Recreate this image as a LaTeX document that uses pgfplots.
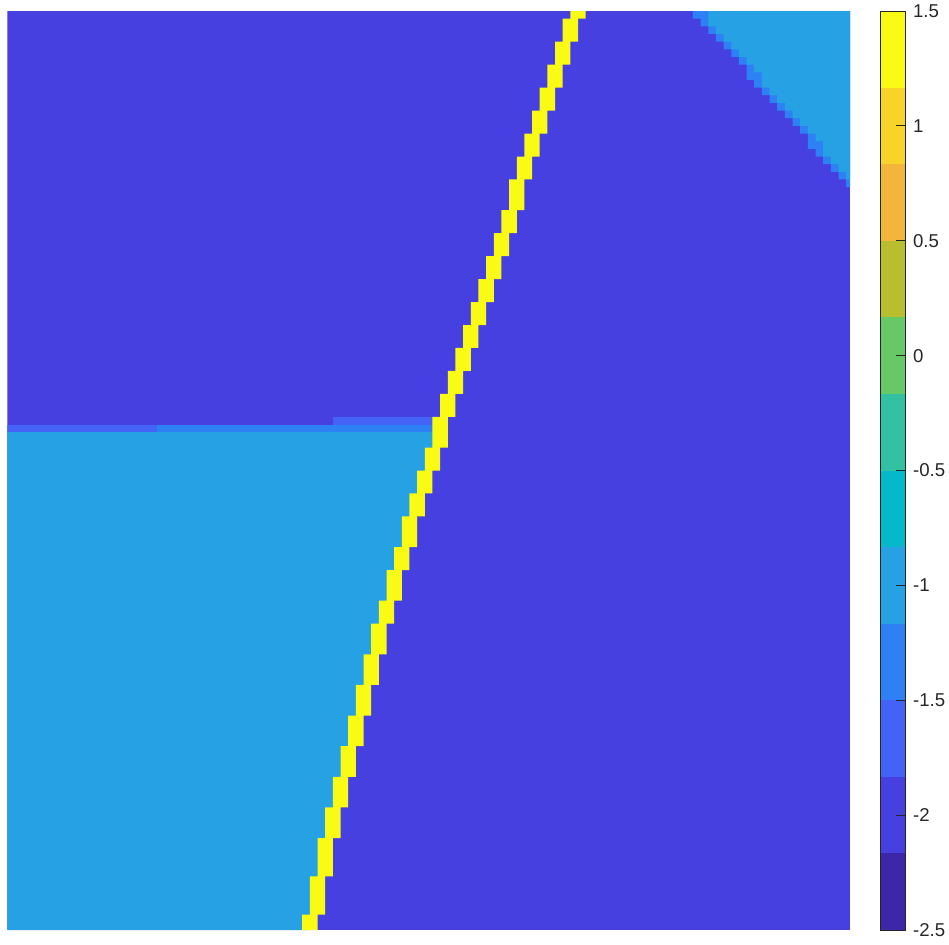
\documentclass[border=0pt]{standalone}
\usepackage{pgfplots}
\pgfplotsset{compat=1.18}
\usepackage{fontspec}
\setmainfont{Liberation Sans}
\definecolor{c1}{RGB}{62,38,168}
\definecolor{c2}{RGB}{70,64,224}
\definecolor{c3}{RGB}{67,98,246}
\definecolor{c4}{RGB}{46,129,245}
\definecolor{c5}{RGB}{37,161,228}
\definecolor{c6}{RGB}{5,184,202}
\definecolor{c7}{RGB}{50,193,162}
\definecolor{c8}{RGB}{103,200,102}
\definecolor{c9}{RGB}{184,190,45}
\definecolor{c10}{RGB}{244,182,58}
\definecolor{c11}{RGB}{248,212,43}
\definecolor{c12}{RGB}{249,251,21}
\definecolor{cFrame}{RGB}{38,38,38}
\begin{document}
\begin{tikzpicture}
\useasboundingbox (0,0) rectangle (474.5pt,472pt);
% ---------------- main image ----------------
\begin{axis}[at={(3.65pt,7pt)}, anchor=south west, scale only axis,
  width=421.35pt, height=459.5pt,
  xmin=-0.5, xmax=109.5, ymin=0, ymax=120, y dir=reverse,
  hide axis, clip=true]
% background value -2
\addplot[fill=c2, draw=none] coordinates {(-0.5,0) (109.5,0) (109.5,120) (-0.5,120)} -- cycle;
% lower-left region value -1
\addplot[fill=c5, draw=none] coordinates {
(-0.5,55) (56,55) (56,57) (55,57) (55,60) (54,60) (54,63) (53,63) (53,66) (52,66)
(52,70) (51,70) (51,73) (50,73) (50,77) (49,77) (49,80) (48,80) (48,84) (47,84)
(47,88) (46,88) (46,92) (45,92) (45,96) (44,96) (44,100) (43,100) (43,104) (42,104)
(42,108) (41,108) (41,113) (40,113) (40,118) (39,118) (39,120) (-0.5,120)} -- cycle;
% transition rows
\addplot[fill=c3, draw=none] coordinates {(42,53) (56,53) (56,54.02) (42,54.02)} -- cycle;
\addplot[fill=c3, draw=none] coordinates {(-0.5,54) (19,54) (19,55.02) (-0.5,55.02)} -- cycle;
\addplot[fill=c4, draw=none] coordinates {(19,54) (56,54) (56,55.02) (19,55.02)} -- cycle;
% top-right corner: edge cells
\addplot[fill=c4, draw=none] coordinates {
(89,0) (89,1) (90,1) (90,2) (91,2) (91,3) (92,3) (92,4) (93,4) (93,5) (94,5) (94,6)
(95,6) (95,7) (96,7) (96,9) (97,9) (97,10) (98,10) (98,11) (99,11) (99,12) (100,12)
(100,13) (101,13) (101,14) (102,14) (102,15) (103,15) (103,16) (104,16) (104,18)
(105,18) (105,19) (106,19) (106,20) (107,20) (107,21) (108,21) (108,22) (109,22)
(109,23) (109.5,23) (109.5,0)} -- cycle;
% top-right corner: value -1
\addplot[fill=c5, draw=none] coordinates {
(91,0) (91,2) (92,2) (92,3) (93,3) (93,4) (94,4) (94,5) (95,5) (95,6) (96,6) (96,7)
(97,7) (97,8) (98,8) (98,10) (99,10) (99,11) (100,11) (100,12) (101,12) (101,13)
(102,13) (102,14) (103,14) (103,15) (104,15) (104,16) (105,16) (105,17) (106,17)
(106,19) (107,19) (107,20) (108,20) (108,21) (109,21) (109,22) (109.5,22) (109.5,0)} -- cycle;
% yellow ridge value 1.5
\addplot[fill=c12, draw=none] coordinates {
(73,0) (73,1) (72,1) (72,4) (71,4) (71,7) (70,7) (70,10) (69,10) (69,13) (68,13)
(68,16) (67,16) (67,19) (66,19) (66,22) (65,22) (65,26) (64,26) (64,29) (63,29)
(63,32) (62,32) (62,35) (61,35) (61,38) (60,38) (60,41) (59,41) (59,44) (58,44)
(58,47) (57,47) (57,50) (56,50) (56,53) (55,53) (55,57) (54,57) (54,60) (53,60)
(53,63) (52,63) (52,66) (51,66) (51,70) (50,70) (50,73) (49,73) (49,77) (48,77)
(48,80) (47,80) (47,84) (46,84) (46,88) (45,88) (45,92) (44,92) (44,96) (43,96)
(43,100) (42,100) (42,104) (41,104) (41,108) (40,108) (40,113) (39,113) (39,118)
(38,118) (38,120)
(40,120) (40,118) (41,118) (41,113) (42,113) (42,108) (43,108) (43,104) (44,104)
(44,100) (45,100) (45,96) (46,96) (46,92) (47,92) (47,88) (48,88) (48,84) (49,84)
(49,80) (50,80) (50,77) (51,77) (51,73) (52,73) (52,70) (53,70) (53,66) (54,66)
(54,63) (55,63) (55,60) (56,60) (56,57) (57,57) (57,53) (58,53) (58,50) (59,50)
(59,47) (60,47) (60,44) (61,44) (61,41) (62,41) (62,38) (63,38) (63,35) (64,35)
(64,32) (65,32) (65,29) (66,29) (66,26) (67,26) (67,22) (68,22) (68,19) (69,19)
(69,16) (70,16) (70,13) (71,13) (71,10) (72,10) (72,7) (73,7) (73,4) (74,4)
(74,1) (75,1) (75,0)} -- cycle;
\end{axis}
% ---------------- colorbar ----------------
\begin{axis}[at={(440.35pt,7pt)}, anchor=south west, scale only axis,
  width=12.3pt, height=459.5pt,
  xmin=0, xmax=1, ymin=-2.5, ymax=1.5,
  xtick=\empty,
  ytick={-2.5,-2,-1.5,-1,-0.5,0,0.5,1,1.5},
  yticklabels={-2.5,-2,-1.5,-1,-0.5,0,0.5,1,1.5},
  ytick pos=right, yticklabel pos=right, tick align=inside,
  major tick length=4.6pt,
  axis line style={draw=cFrame, line width=0.45pt},
  every tick/.style={draw=cFrame, line width=0.45pt},
  yticklabel style={font=\fontsize{9.3pt}{11pt}\selectfont, text=cFrame, inner sep=0pt, xshift=3.7pt},
  axis on top, clip=true]
\addplot[fill=c1, draw=none] coordinates {(0,-2.5) (1,-2.5) (1,-2.1667) (0,-2.1667)} -- cycle;
\addplot[fill=c2, draw=none] coordinates {(0,-2.1667) (1,-2.1667) (1,-1.8333) (0,-1.8333)} -- cycle;
\addplot[fill=c3, draw=none] coordinates {(0,-1.8333) (1,-1.8333) (1,-1.5) (0,-1.5)} -- cycle;
\addplot[fill=c4, draw=none] coordinates {(0,-1.5) (1,-1.5) (1,-1.1667) (0,-1.1667)} -- cycle;
\addplot[fill=c5, draw=none] coordinates {(0,-1.1667) (1,-1.1667) (1,-0.8333) (0,-0.8333)} -- cycle;
\addplot[fill=c6, draw=none] coordinates {(0,-0.8333) (1,-0.8333) (1,-0.5) (0,-0.5)} -- cycle;
\addplot[fill=c7, draw=none] coordinates {(0,-0.5) (1,-0.5) (1,-0.1667) (0,-0.1667)} -- cycle;
\addplot[fill=c8, draw=none] coordinates {(0,-0.1667) (1,-0.1667) (1,0.1667) (0,0.1667)} -- cycle;
\addplot[fill=c9, draw=none] coordinates {(0,0.1667) (1,0.1667) (1,0.5) (0,0.5)} -- cycle;
\addplot[fill=c10, draw=none] coordinates {(0,0.5) (1,0.5) (1,0.8333) (0,0.8333)} -- cycle;
\addplot[fill=c11, draw=none] coordinates {(0,0.8333) (1,0.8333) (1,1.1667) (0,1.1667)} -- cycle;
\addplot[fill=c12, draw=none] coordinates {(0,1.1667) (1,1.1667) (1,1.5) (0,1.5)} -- cycle;
\end{axis}
\end{tikzpicture}
\end{document}
